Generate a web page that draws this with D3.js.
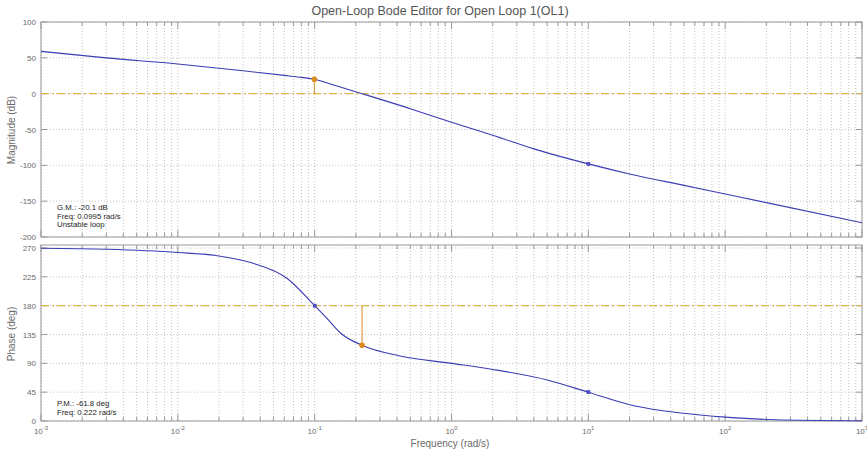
<!DOCTYPE html>
<html>
<head>
<meta charset="utf-8">
<script src="https://cdn.jsdelivr.net/npm/d3@7"></script>
<style>
body { margin: 0; background: #fff; }
text { font-family: "Liberation Sans", Arial, sans-serif; }
</style>
</head>
<body>
<svg width="867" height="456"></svg>
<script>
// magnitude curve
var magFreq = [0.001, 0.003, 0.01, 0.03, 0.06, 0.08, 0.1, 0.13, 0.222, 0.5, 1, 2, 4, 10, 20, 50, 100, 200, 1000];
var magDb   = [59, 50, 41.5, 32, 25.5, 22.7, 20.1, 13.5, 0, -21, -40, -58, -77, -98, -112, -128, -140, -152, -180];

// phase curve
var phaseFreq = [0.001, 0.003, 0.01, 0.02, 0.035, 0.063, 0.1, 0.123, 0.155, 0.222, 0.42, 1, 2, 5, 10, 20, 50, 100, 230, 1000];
var phaseDeg  = [269.5, 268, 263, 257.5, 246.5, 222.5, 180, 160, 137, 118.2, 101.5, 90, 80.5, 64, 45, 25.5, 12, 6, 2, 0.5];

var magTicks = [100, 50, 0, -50, -100, -150, -200];
var phaseTicks = [0, 45, 90, 135, 180, 225, 270];
var decades = [-3, -2, -1, 0, 1, 2, 3];

var gmText = ["G.M.: -20.1 dB", "Freq: 0.0995 rad/s", "Unstable loop"];
var pmText = ["P.M.: -61.8 deg", "Freq: 0.222 rad/s"];
var gmPoint = {f: 0.0995, v: 20.1, base: 0};
var pmPoint = {f: 0.222, v: 118.2, base: 180};
var magMarks = [{f: 10, v: -98}];
var phaseMarks = [{f: 0.1, v: 180}, {f: 10, v: 45}];

var svg = d3.select("svg");
var blue = "#3c3cb4", orange = "#dc8c1e", gold = "#e0b450";
var gridCol = "#c4c4c4", boxCol = "#9a9a9a", txtCol = "#6a6a6a";

var x = d3.scaleLog().domain([1e-3, 1e3]).range([41, 862]);
var yMag = d3.scaleLinear().domain([-200, 100]).range([237, 22]);
var yPh = d3.scaleLinear().domain([0, 270]).range([421, 248]);

var minor = [];
decades.slice(0, -1).forEach(function(d) {
  for (var k = 2; k <= 9; k++) minor.push(k * Math.pow(10, d));
});
var major = decades.map(function(d) { return Math.pow(10, d); });

function panel(y, top, bottom, ticks, freq, vals, marks, pt) {
  var g = svg.append("g");
  var left = x.range()[0], right = x.range()[1];

  // grid
  g.selectAll(".gx").data(major.concat(minor)).enter().append("line")
    .attr("x1", function(d) { return x(d); }).attr("x2", function(d) { return x(d); })
    .attr("y1", top).attr("y2", bottom)
    .attr("stroke", gridCol).attr("stroke-dasharray", "1,2");
  g.selectAll(".gy").data(ticks).enter().append("line")
    .attr("x1", left).attr("x2", right)
    .attr("y1", function(d) { return y(d); }).attr("y2", function(d) { return y(d); })
    .attr("stroke", gridCol).attr("stroke-dasharray", "1,2");

  // box
  g.append("rect").attr("x", left).attr("y", top)
    .attr("width", right - left).attr("height", bottom - top)
    .attr("fill", "none").attr("stroke", boxCol);

  // x ticks top and bottom (inward)
  [top, bottom].forEach(function(yy, i) {
    var dir = i === 0 ? 1 : -1;
    g.selectAll(null).data(major).enter().append("line")
      .attr("x1", function(d) { return x(d); }).attr("x2", function(d) { return x(d); })
      .attr("y1", yy).attr("y2", yy + dir * 7).attr("stroke", boxCol);
    g.selectAll(null).data(minor).enter().append("line")
      .attr("x1", function(d) { return x(d); }).attr("x2", function(d) { return x(d); })
      .attr("y1", yy).attr("y2", yy + dir * 4).attr("stroke", boxCol);
  });

  // y ticks both sides
  g.selectAll(null).data(ticks).enter().append("line")
    .attr("x1", left).attr("x2", left + 6)
    .attr("y1", function(d) { return y(d); }).attr("y2", function(d) { return y(d); })
    .attr("stroke", boxCol);
  g.selectAll(null).data(ticks).enter().append("line")
    .attr("x1", right - 6).attr("x2", right)
    .attr("y1", function(d) { return y(d); }).attr("y2", function(d) { return y(d); })
    .attr("stroke", boxCol);
  g.selectAll(null).data(ticks).enter().append("text")
    .attr("x", 36).attr("y", function(d) { return y(d) + 3; })
    .attr("text-anchor", "end").attr("font-size", 8).attr("fill", txtCol)
    .text(function(d) { return d; });

  // reference dash-dot line
  g.append("line").attr("x1", left).attr("x2", right)
    .attr("y1", y(pt.base)).attr("y2", y(pt.base))
    .attr("stroke", gold).attr("stroke-width", 1.3).attr("stroke-dasharray", "8,3,2,3");

  // response
  var line = d3.line()
    .x(function(d, i) { return x(freq[i]); })
    .y(function(d) { return y(d); })
    .curve(d3.curveMonotoneX);
  g.append("path").datum(vals).attr("d", line)
    .attr("fill", "none").attr("stroke", blue).attr("stroke-width", 1.1);

  // margin stem + dot
  g.append("line").attr("x1", x(pt.f)).attr("x2", x(pt.f))
    .attr("y1", y(pt.base)).attr("y2", y(pt.v))
    .attr("stroke", orange).attr("stroke-width", 1);
  g.append("circle").attr("cx", x(pt.f)).attr("cy", y(pt.v)).attr("r", 2.8).attr("fill", orange);

  // compensator markers
  g.selectAll(null).data(marks).enter().append("rect")
    .attr("x", function(d) { return x(d.f) - 1.5; }).attr("y", function(d) { return y(d.v) - 1.5; })
    .attr("width", 3).attr("height", 3)
    .attr("fill", "#5050c8").attr("stroke", blue).attr("stroke-width", 0.6);
  return g;
}

panel(yMag, 22, 237, magTicks, magFreq, magDb, magMarks, gmPoint);
panel(yPh, 245, 421, phaseTicks, phaseFreq, phaseDeg, phaseMarks, pmPoint);

// x tick labels
var lab = svg.selectAll(".xl").data(decades).enter().append("text")
  .attr("x", function(d) { return x(Math.pow(10, d)); }).attr("y", 434)
  .attr("text-anchor", "middle").attr("font-size", 8).attr("fill", txtCol);
lab.append("tspan").text("10");
lab.append("tspan").attr("dy", -4).attr("font-size", 6).text(function(d) { return d; });

// titles
svg.append("text").attr("x", 440).attr("y", 15).attr("text-anchor", "middle")
  .attr("font-size", 12.5).attr("fill", "#555").text("Open-Loop Bode Editor for Open Loop 1(OL1)");
svg.append("text").attr("transform", "translate(15,130) rotate(-90)").attr("text-anchor", "middle")
  .attr("font-size", 10).attr("fill", txtCol).text("Magnitude (dB)");
svg.append("text").attr("transform", "translate(15,334) rotate(-90)").attr("text-anchor", "middle")
  .attr("font-size", 10).attr("fill", txtCol).text("Phase (deg)");
svg.append("text").attr("x", 450).attr("y", 447).attr("text-anchor", "middle")
  .attr("font-size", 10).attr("fill", txtCol).text("Frequency (rad/s)");

// margin readouts
svg.selectAll(".gm").data(gmText).enter().append("text")
  .attr("x", 57).attr("y", function(d, i) { return 210 + i * 8.6; })
  .attr("font-size", 7.8).attr("fill", "#222").text(function(d) { return d; });
svg.selectAll(".pm").data(pmText).enter().append("text")
  .attr("x", 57).attr("y", function(d, i) { return 406 + i * 8.8; })
  .attr("font-size", 7.8).attr("fill", "#222").text(function(d) { return d; });
</script>
</body>
</html>
